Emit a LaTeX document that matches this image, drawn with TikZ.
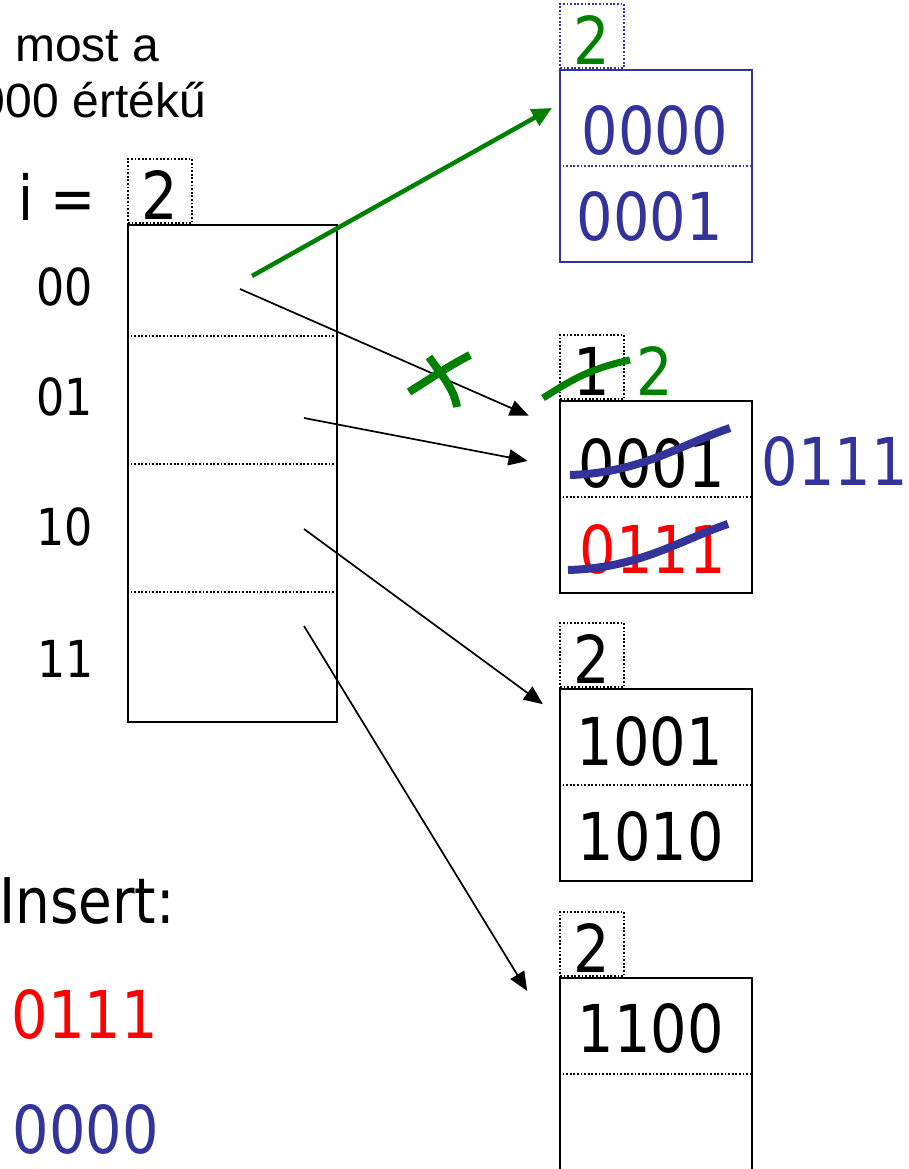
\documentclass[tikz,border=0pt]{standalone}
\usepackage{fontspec}
\setmainfont{DejaVu Sans}[FakeStretch=0.87]
\newfontfamily\arialfont{Liberation Sans}
\usetikzlibrary{arrows.meta, positioning, calc}
\definecolor{insblue}{RGB}{51,51,153}
\definecolor{insgreen}{RGB}{0,128,0}
\definecolor{insred}{RGB}{255,0,0}

\begin{document}
\begin{tikzpicture}[x=1pt,y=-1pt,
    bucket/.style={draw,line width=2pt,minimum width=192pt,minimum height=192pt,inner sep=0pt},
    depth/.style={draw,line width=1.8pt,dash pattern=on 1.8pt off 1.8pt,minimum size=64pt,inner sep=0pt,
                  anchor=south west,text height=56pt,text depth=0pt,font=\fontsize{66}{66}\selectfont},
    rec/.style={anchor=base,inner sep=0pt,font=\fontsize{66}{66}\selectfont},
    lbl/.style={anchor=base,inner sep=0pt,font=\fontsize{51}{51}\selectfont},
    sep/.style={line width=1.8pt,dash pattern=on 1.8pt off 1.8pt},
    ptr/.style={-{Triangle[length=19pt,width=16pt]},line width=1.7pt},
    gptr/.style={-{Triangle[length=20pt,width=18pt]},line width=4.5pt,insgreen},
    scribble/.style={line width=8pt}]
    \useasboundingbox (0,0) rectangle (908,1169);
    \clip (0,0) rectangle (908,1169);
    \node[anchor=base west,inner sep=0pt,font=\arialfont\fontsize{48}{48}\selectfont] (note1) at (15,62) {most a};
    \node[anchor=base east,inner sep=0pt,font=\arialfont\fontsize{48}{48}\selectfont] (note2) at (206,118) {000 értékű};
    % directory
    \node[draw,line width=2pt,minimum width=209pt,minimum height=497pt,inner sep=0pt] (dir) at (232.5,473.5) {};
    \node[depth] (dirdepth) at (dir.north west) {2};
    \node[anchor=base,inner sep=0pt,font=\fontsize{62}{62}\selectfont] (ieq) at (57,220) {i =};
    \foreach \y in {112,240,368} \draw[sep] ($(dir.north west)+(0,\y)$) -- +(209,0);
    \node[lbl] (l00) at (65,305) {00};
    \node[lbl] (l01) at (65,415) {01};
    \node[lbl] (l10) at (65,545) {10};
    \node[lbl] (l11) at (66,677) {11};
    % buckets
    \node[bucket,insblue] (bA) at (656,166) {};
    \node[depth,insblue,text=insgreen] (dA) at (bA.north west) {2};
    \node[bucket] (bB) at (656,497) {};
    \node[depth] (dB) at (bB.north west) {1};
    \node[bucket] (bC) at (656,785) {};
    \node[depth] (dC) at (bC.north west) {2};
    \node[bucket] (bD) at (656,1074) {};
    \node[depth] (dD) at (bD.north west) {2};
    \draw[sep,insblue] (bA.west) -- (bA.east);
    \foreach \b in {bB,bC,bD} \draw[sep] (\b.west) -- (\b.east);
    \node[rec,insblue] (a1) at (655,155) {0000};
    \node[rec,insblue] (a2) at (650,240) {0001};
    \node[rec] (b1) at (652,487) {0001};
    \node[rec,insred] (b2) at (653,573) {0111};
    \node[rec] (c1) at (650,765) {1001};
    \node[rec] (c2) at (651,860) {1010};
    \node[rec] (d1) at (651,1052) {1100};
    \node[rec,insblue] (bnew) at (835,485) {0111};
    \node[rec,insgreen] (dBnew) at (655,395) {2};
    % pointers
    \coordinate (p00) at (240,289);
    \coordinate (p01) at (304,418);
    \coordinate (p10) at (304,529);
    \coordinate (p11) at (304,626);
    \coordinate (pnew) at (252,276);
    \draw[ptr,shorten >=33pt] (p00) -- ($(bB.north west)+(0,29)$);
    \draw[ptr,shorten >=32pt] (p01) -- ($(bB.north west)+(0,67)$);
    \draw[ptr,shorten >=20pt] (p10) -- ($(bC.north west)+(0,28)$);
    \draw[ptr,shorten >=61pt] (p11) -- ($(bD.north west)+(0,66)$);
    \draw[gptr,shorten >=8pt] (pnew) -- ($(bA.north west)+(0,35)$);
    % corrections
    \draw[scribble,insgreen] (409,392) .. controls (433,377) and (447,367) .. (470,355);
    \draw[scribble,insgreen] (429,357) .. controls (440,373) and (454,388) .. (457,407);
    \draw[scribble,line width=7pt,insgreen] (543,398) .. controls (567,383) and (587,369) .. (630,360);
    \draw[scribble,insblue] (570,475) .. controls (640,473) and (680,445) .. (730,428);
    \draw[scribble,insblue] (568,570) .. controls (640,568) and (680,540) .. (728,524);
    % inserts
    \node[anchor=base west,inner sep=0pt,font=\fontsize{63}{63}\selectfont] (ins) at (-1,923) {Insert:};
    \node[rec,insred] (ins1) at (85,1038) {0111};
    \node[rec,insblue] (ins2) at (86,1153) {0000};
\end{tikzpicture}
\end{document}
